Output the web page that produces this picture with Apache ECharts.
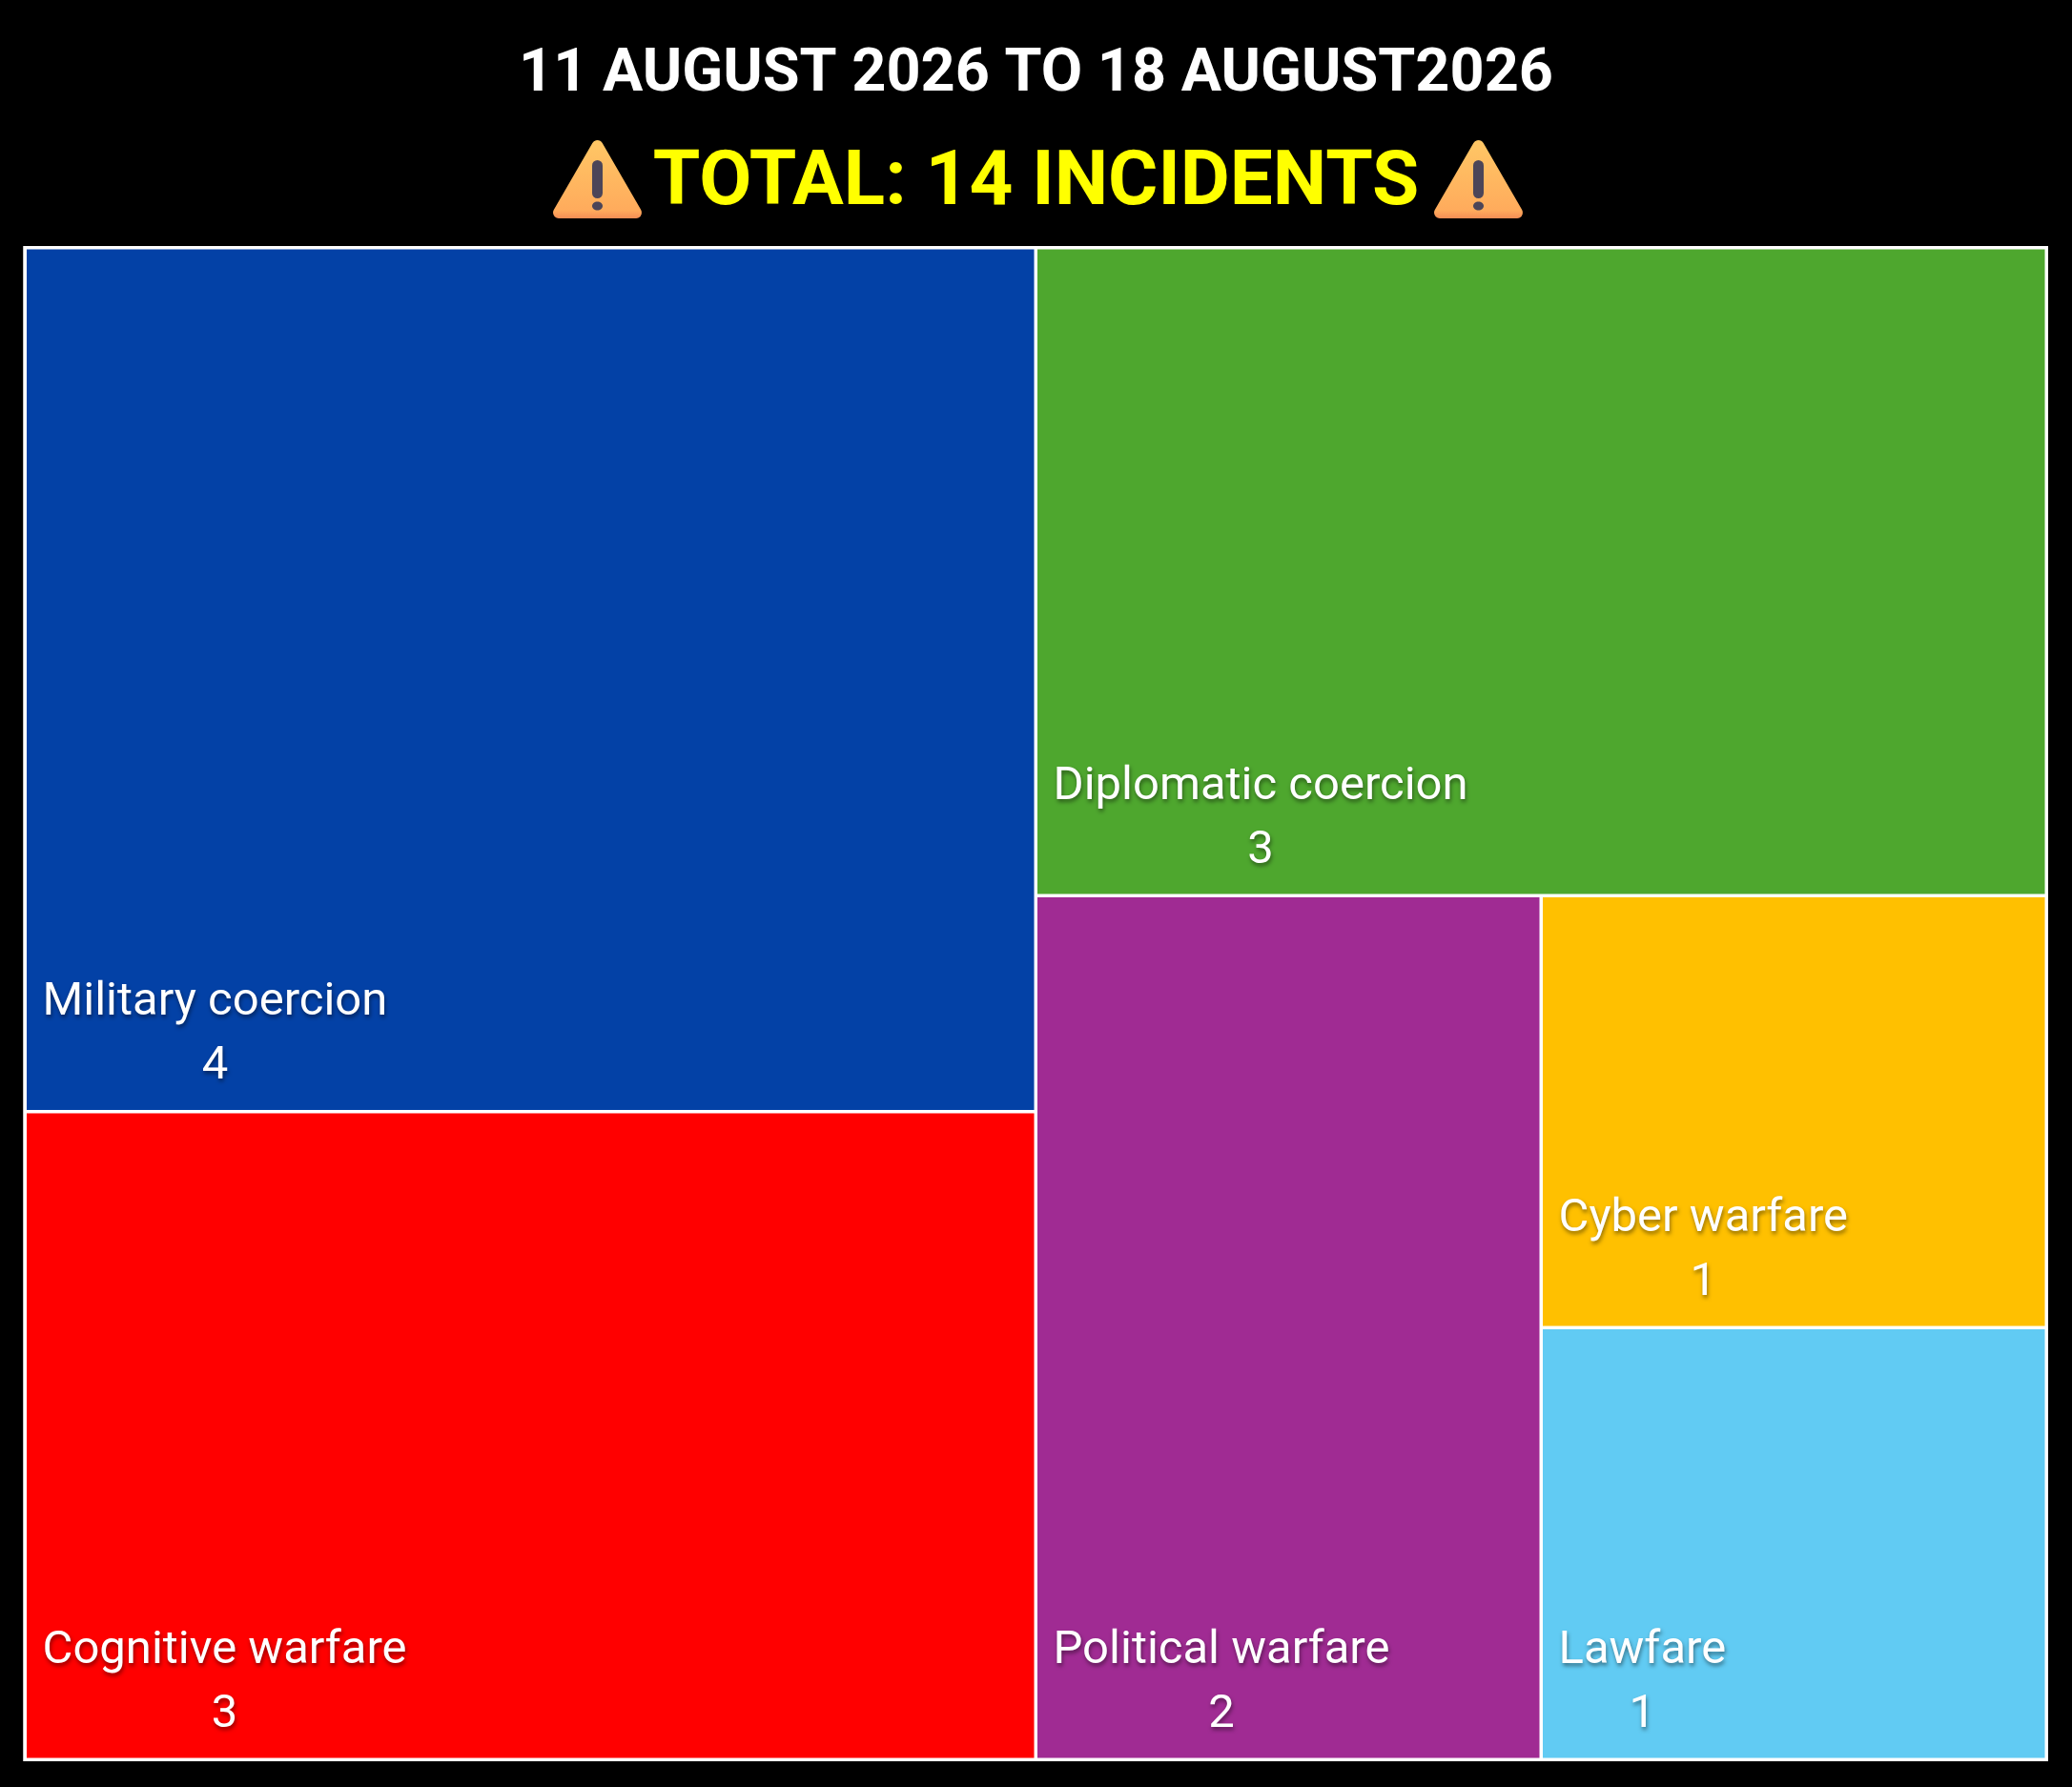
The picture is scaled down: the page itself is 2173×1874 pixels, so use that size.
<!DOCTYPE html>
<html><head><meta charset="utf-8">
<style>html,body{margin:0;padding:0;background:#000}#c{width:2173px;height:1874px}</style>
<script src="https://cdn.jsdelivr.net/npm/echarts@6/dist/echarts.min.js"></script>
</head><body><div id="c"></div>
<script>
const titleLine = "11 AUGUST 2026 TO 18 AUGUST2026";
const totalLine = "TOTAL: 14 INCIDENTS";
const categories = ["Military coercion","Cognitive warfare","Diplomatic coercion","Political warfare","Cyber warfare","Lawfare"];
const incidents = [4,3,3,2,1,1];
const tileColors = ["#0341A6","#FF0000","#4EA72E","#A02B93","#FFC000","#61CBF3"];

const frame = 1.75;
const plotHeight = 1585.5;
const [v0,v1,v2,v3,v4,v5] = incidents;
const lower = v3+v4+v5;
// label block is pinned to the tile bottom: heights follow from the values through the nesting
const tileHeights = [
  plotHeight*v0/(v0+v1), plotHeight*v1/(v0+v1), plotHeight*v2/(v2+lower),
  plotHeight*lower/(v2+lower), plotHeight*lower/(v2+lower)*v4/(v4+v5), plotHeight*lower/(v2+lower)*v5/(v4+v5)
];
const labelFontSize = 49, labelFamily = 'Roboto', lineH = 67;
const ctx = document.createElement('canvas').getContext('2d');
ctx.font = labelFontSize+'px '+labelFamily;
function leaf(i){
  const pad = (ctx.measureText(categories[i]).width - ctx.measureText(String(incidents[i])).width)/2;
  const text = {color:'#fff',fontFamily:labelFamily,fontSize:labelFontSize,lineHeight:lineH,align:'left',
    textShadowColor:'rgba(0,0,0,0.45)',textShadowBlur:4,textShadowOffsetX:1,textShadowOffsetY:3};
  return {
    name: categories[i], value: incidents[i],
    itemStyle:{color:tileColors[i],borderColor:'#fff',borderWidth:frame},
    label:{
      show:true, position:'insideTopLeft', distance:0,
      padding:[tileHeights[i]-2*lineH-15,0,0,16.5],
      formatter:'{n|'+categories[i]+'}\n{v|'+incidents[i]+'}',
      rich:{ n:text, v:Object.assign({},text,{padding:[0,0,0,pad]}) }
    }
  };
}
const group = {itemStyle:{borderWidth:0,gapWidth:0},label:{show:false},upperLabel:{show:false}};
const treeData = [{
  name:'all',
  itemStyle:{borderColor:'#fff',borderWidth:frame,gapWidth:0},
  label:{show:false},upperLabel:{show:false},
  children:[
    Object.assign({name:'left',children:[leaf(0),leaf(1)]},group),
    Object.assign({name:'right',children:[
      leaf(2),
      Object.assign({name:'lower',children:[
        leaf(3),
        Object.assign({name:'small',children:[leaf(4),leaf(5)]},group)
      ]},group)
    ]},group)
  ]
}];

function warning(cx){
  const paint={type:'linear',x:0,y:0,x2:0,y2:1,colorStops:[{offset:0,color:'#FFC765'},{offset:0.9,color:'#FFAB5C'},{offset:1,color:'#F58D55'}]};
  return {type:'group',silent:true,children:[
    {type:'polygon',shape:{points:[[cx,153],[cx+40.5,223],[cx-40.5,223]]},
     style:{fill:paint,stroke:paint,lineWidth:12,lineJoin:'round'}},
    {type:'rect',shape:{x:cx-5.5,y:168,width:11,height:40,r:5.5},style:{fill:'#4C4558'}},
    {type:'ellipse',shape:{cx:cx,cy:216,rx:5.5,ry:4.5},style:{fill:'#4C4558'}}
  ]};
}

const chart = echarts.init(document.getElementById('c'),null,{renderer:'canvas'});
chart.setOption({
  backgroundColor:'#000',
  animation:false,
  title:[
    {text:titleLine,left:'center',top:43,textStyle:{color:'#fff',fontFamily:'Roboto',fontWeight:'bold',fontSize:63}},
    {text:totalLine,left:'center',top:149,textStyle:{color:'#FFFF00',fontFamily:'Roboto',fontWeight:'bold',fontSize:80}}
  ],
  graphic:[warning(626.5),warning(1550.5)],
  series:[{
    type:'treemap',
    left:24.5,top:258,width:2123.5,height:plotHeight+2*frame,
    roam:false,nodeClick:false,
    breadcrumb:{show:false},
    squareRatio:1,
    sort:false,
    levels:[{itemStyle:{borderWidth:0,gapWidth:0}}],
    data:treeData
  }]
});
</script></body></html>
